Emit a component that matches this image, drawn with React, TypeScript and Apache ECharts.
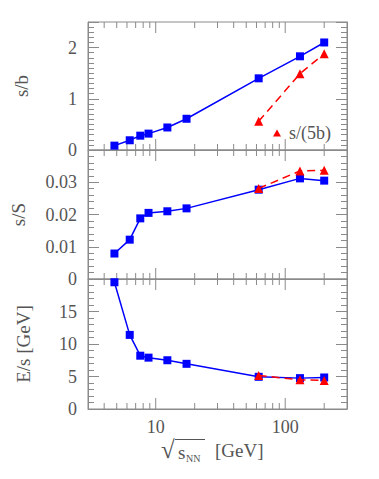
import React, { useEffect, useRef } from "react";
import * as echarts from "echarts";

const sqrtS = [4.8, 6.3, 7.6, 8.8, 12.3, 17.3, 62.4, 130, 200];
const rhicS = [62.4, 130, 200];
const sOverB = [0.085, 0.19, 0.28, 0.32, 0.44, 0.61, 1.4, 1.83, 2.1];
const sOver5B = [0.56, 1.49, 1.88];
const sOverS = [0.0079, 0.0122, 0.0188, 0.0205, 0.021, 0.0219, 0.0277, 0.0312, 0.0305];
const sOverSRed = [0.0281, 0.0335, 0.0337];
const eOverS = [19.5, 11.4, 8.2, 7.9, 7.5, 6.95, 4.95, 4.75, 4.85];
const eOverSRed = [5.15, 4.5, 4.4];
const xMinorTicks = [4, 5, 6, 7, 8, 9, 20, 30, 40, 50, 60, 70, 80, 90, 200];
const xMajorTicks = [10, 100];
const xTickLabels = ["10", "100"];

const FONT = "Liberation Serif";
const GRAY = "#8a8a8a";
const TXT = "#555555";
const BLUE = "#0000ff";
const RED = "#ff0000";

const grids = [
  { top: 22, height: 128 },
  { top: 150, height: 129 },
  { top: 279, height: 130 },
];
const yRanges: [number, number, number][] = [
  [0, 2.5, 1],
  [0, 0.04, 0.01],
  [0, 20, 5],
];
const yMinorSplits = [10, 5, 5];
const yNames = ["s/b", "s/S", "E/s [GeV]"];
const yNameGaps = [57, 60, 55];

export default function App() {
  const ref = useRef<HTMLDivElement>(null);
  useEffect(() => {
    if (!ref.current) return;
    document.body.style.margin = "0";
    const chart = echarts.init(ref.current, null, { renderer: "svg" });
    const pair = (xs: number[], ys: number[]) => xs.map((x, i) => [x, ys[i]]);
    const tickData = [
      ...xMinorTicks.map((v) => [v, 0]),
      ...xMajorTicks.map((v) => [v, 1]),
    ];
    const xAxes = grids.map((_, i) => ({
      type: "log",
      logBase: 10,
      gridIndex: i,
      min: 3,
      max: 300,
      axisLine: { show: true, lineStyle: { color: GRAY, width: 1 } },
      axisTick: { show: false },
      splitLine: { show: false },
      axisLabel: {
        show: i === 2,
        showMinLabel: false,
        showMaxLabel: false,
        margin: 9,
        fontFamily: FONT,
        fontSize: 18,
        color: TXT,
        formatter: (v: number) => {
          const k = xMajorTicks.indexOf(Math.round(v));
          return k >= 0 ? xTickLabels[k] : "";
        },
      },
    }));
    const yCommon = (i: number, right: boolean) => ({
      type: "value",
      gridIndex: i,
      position: right ? "right" : "left",
      min: yRanges[i][0],
      max: yRanges[i][1],
      interval: yRanges[i][2],
      name: right ? "" : yNames[i],
      nameLocation: "middle",
      nameGap: yNameGaps[i],
      nameRotate: 90,
      nameTextStyle: { fontFamily: FONT, fontSize: 19, color: TXT },
      axisLine: { show: true, lineStyle: { color: GRAY, width: 1 } },
      axisTick: { show: true, inside: true, length: 11, lineStyle: { color: GRAY } },
      minorTick: { show: true, splitNumber: yMinorSplits[i], length: 6, lineStyle: { color: GRAY } },
      splitLine: { show: false },
      minorSplitLine: { show: false },
      axisLabel: {
        show: !right,
        showMaxLabel: false,
        showMinLabel: true,
        margin: 11,
        fontFamily: FONT,
        fontSize: 18,
        color: TXT,
        formatter: (v: number) => (i === 1 ? (v === 0 ? "0" : v.toFixed(2)) : String(v)),
      },
    });
    const yAxes = [0, 1, 2].map((i) => yCommon(i, false)).concat([0, 1, 2].map((i) => yCommon(i, true)));

    const lineSeries = (name: string, gi: number, data: number[][], red: boolean) => ({
      name,
      type: "line",
      xAxisIndex: gi,
      yAxisIndex: gi,
      data,
      symbol: red ? "triangle" : "rect",
      symbolSize: red ? 9 : 8,
      itemStyle: { color: red ? RED : BLUE },
      lineStyle: red
        ? { color: RED, width: 1.5, type: [8, 5] }
        : { color: BLUE, width: 1.5 },
      z: red ? 3 : 2,
    });

    const tickSeries = grids.map((_, gi) => ({
      type: "custom",
      xAxisIndex: gi,
      yAxisIndex: gi,
      silent: true,
      data: tickData,
      encode: { x: 0 },
      renderItem: (params: any, api: any) => {
        const v = api.value(0);
        const major = api.value(1);
        const pb = api.coord([v, yRanges[gi][0]]);
        const pt = api.coord([v, yRanges[gi][1]]);
        const len = major ? 11 : 6;
        const st = { stroke: GRAY, lineWidth: 1 };
        return {
          type: "group",
          children: [
            { type: "line", shape: { x1: pb[0], y1: pb[1], x2: pb[0], y2: pb[1] - len }, style: st },
            { type: "line", shape: { x1: pt[0], y1: pt[1], x2: pt[0], y2: pt[1] + len }, style: st },
          ],
        };
      },
    }));

    chart.setOption({
      animation: false,
      grid: grids.map((g) => ({
        left: 88,
        width: 259,
        top: g.top,
        height: g.height,
        show: true,
        borderColor: GRAY,
        borderWidth: 1,
        backgroundColor: "transparent",
      })),
      xAxis: xAxes,
      yAxis: yAxes,
      legend: {
        data: ["s/(5b)"],
        left: 268,
        top: 119,
        itemWidth: 8,
        itemHeight: 7,
        icon: "triangle",
        textStyle: { fontFamily: FONT, fontSize: 18, color: TXT, padding: [0, 0, 0, 3] },
      },
      graphic: [
        {
          type: "group",
          left: 161,
          top: 437,
          children: [
            { type: "text", x: 0, y: 0, style: { text: "√", font: `25px '${FONT}'`, fill: TXT } },
            { type: "line", shape: { x1: 14, y1: 2.5, x2: 44, y2: 2.5 }, style: { stroke: TXT, lineWidth: 1 } },
            { type: "text", x: 17, y: 6, style: { text: "s", font: `19px '${FONT}'`, fill: TXT } },
            { type: "text", x: 25, y: 16, style: { text: "NN", font: `10px '${FONT}'`, fill: TXT } },
            { type: "text", x: 54, y: 4, style: { text: "[GeV]", font: `19px '${FONT}'`, fill: TXT } },
          ],
        },
      ],
      series: [
        lineSeries("s/b", 0, pair(sqrtS, sOverB), false),
        lineSeries("s/(5b)", 0, pair(rhicS, sOver5B), true),
        lineSeries("s/S", 1, pair(sqrtS, sOverS), false),
        lineSeries("s/S RHIC", 1, pair(rhicS, sOverSRed), true),
        lineSeries("E/s", 2, pair(sqrtS, eOverS), false),
        lineSeries("E/s RHIC", 2, pair(rhicS, eOverSRed), true),
        ...tickSeries,
      ],
    });
    return () => chart.dispose();
  }, []);
  return <div ref={ref} style={{ width: 379, height: 479 }} />;
}
